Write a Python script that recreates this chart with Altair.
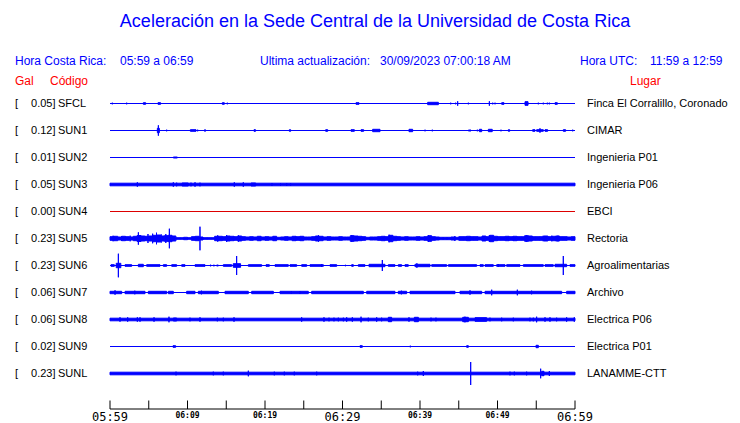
import altair as alt
import pandas as pd

# ---------------- data ----------------
STATIONS = ["SFCL", "SUN1", "SUN2", "SUN3", "SUN4", "SUN5", "SUN6", "SUN7", "SUN8", "SUN9", "SUNL"]
GAL = [0.05, 0.12, 0.01, 0.05, 0.00, 0.23, 0.23, 0.06, 0.06, 0.02, 0.23]
PLACES = ["Finca El Corralillo, Coronado", "CIMAR", "Ingenieria P01", "Ingenieria P06", "EBCI",
          "Rectoria", "Agroalimentarias", "Archivo", "Electrica P06", "Electrica P01", "LANAMME-CTT"]
ONLINE = [True, True, True, True, False, True, True, True, True, True, True]

# events per station: (start minute after 05:59, duration in minutes, half amplitude)
SFCL = [(0.30, 0, 1.3), (2.15, 0, 1.3), (3.96, 0, 1.0), (4.30, 0.30, 1.3), (4.73, 0, 1.0), (6.19, 0.34, 1.3),
        (7.31, 0, 1.0), (9.59, 0, 0.7), (10.62, 0, 0.7), (14.49, 0.26, 1.3), (15.14, 0, 1.3), (28.69, 0, 0.7),
        (31.74, 0.39, 1.3), (33.76, 0, 0.7), (37.33, 0, 0.7), (38.58, 0, 1.0), (38.84, 0, 1.0), (40.99, 1.38, 1.7),
        (43.96, 0, 1.3), (44.60, 0, 1.3), (44.86, 0, 2.7), (46.24, 0, 1.3), (46.80, 0, 0.7), (47.31, 0, 1.0),
        (47.96, 0, 1.0), (48.95, 0, 2.7), (49.38, 0, 1.3), (49.68, 0, 1.3), (50.54, 0.30, 1.3), (51.70, 0, 0.7),
        (52.56, 0, 0.7), (53.55, 0.39, 2.3), (55.27, 0, 1.3), (55.91, 0, 1.3), (56.43, 0, 1.3), (56.69, 0, 1.3),
        (57.42, 0.30, 1.3), (59.57, 0, 0.7)]
SUN1 = [(5.59, 0, 1.0), (6.11, 0.26, 2.7), (6.24, 0, 5.7), (7.31, 0, 1.3), (10.37, 0.73, 1.3), (11.31, 0, 1.3),
        (12.26, 0, 1.7), (12.69, 0, 0.7), (14.88, 0, 1.0), (16.17, 0, 1.0), (17.20, 0, 0.7), (18.58, 0.20, 1.3),
        (23.14, 0.17, 1.3), (25.46, 0, 1.0), (27.83, 0.26, 1.3), (28.82, 0, 1.0), (30.62, 0, 0.7), (30.88, 0, 0.7),
        (31.10, 0.43, 1.3), (32.39, 0.34, 1.3), (33.89, 0.95, 1.7), (38.58, 0.47, 1.7), (39.78, 0, 1.0),
        (40.22, 0, 0.7), (40.65, 0, 1.3), (41.29, 0, 1.0), (41.59, 0, 1.3), (43.87, 0, 0.7), (45.03, 0, 1.0),
        (45.46, 0, 1.0), (46.24, 0.34, 1.0), (47.40, 0, 1.3), (47.66, 0.30, 1.7), (48.39, 0, 0.7), (48.82, 0.50, 1.7),
        (50.45, 0, 1.3), (51.05, 0, 1.0), (51.40, 0.17, 1.3), (53.89, 0, 0.7), (54.54, 0.30, 1.3), (55.05, 0.86, 1.3),
        (55.48, 0, 2.7), (56.13, 0.34, 1.3), (57.94, 0, 1.0), (58.49, 0.30, 1.3), (59.27, 0, 1.0), (59.70, 0, 1.3)]
SUN2 = [(8.17, 0.52, 1.0)]
SUN3 = [(0, 60, 1.8), (3.53, 0, 2.7), (8.17, 0, 2.7), (8.60, 0, 2.3), (9.30, 0.8, 2.0), (10.45, 0, 2.3),
        (10.97, 0, 2.7), (11.61, 0, 2.3), (16.04, 0, 2.7), (17.20, 0, 2.7), (18.20, 0.6, 2.0), (20.90, 0, 2.0),
        (22.00, 0, 2.0), (22.80, 0, 2.0), (23.30, 0, 2.0)]
SUN4 = []
SUN5_ENV = [2.3, 2.7, 2.0, 2.7, 2.3, 2.0, 2.7, 3.5, 3.0, 2.7,
            3.0, 3.7, 4.0, 3.0, 3.3, 3.7, 3.0, 1.3, 1.3, 1.7,
            1.3, 2.3, 2.7, 2.0, 1.3, 1.3, 1.3, 2.7, 2.7, 2.3,
            3.0, 2.7, 2.3, 3.0, 2.3, 2.0, 2.3, 2.0, 2.7, 2.0,
            2.3, 2.0, 2.7, 1.7, 2.0, 2.3, 2.0, 2.7, 2.3, 2.7,
            2.0, 2.0, 2.3, 3.0, 2.7, 2.0, 2.3, 2.0, 2.0, 2.3,
            2.0, 2.0, 3.3, 3.0, 2.7, 2.3, 1.7, 2.0, 2.0, 2.3,
            2.7, 2.3, 3.7, 2.7, 2.3, 2.0, 2.3, 2.0, 2.0, 2.3,
            2.0, 2.3, 3.3, 2.3, 2.0, 1.7, 1.7, 1.7, 2.0, 1.7,
            2.3, 2.3, 2.7, 2.3, 2.3, 2.0, 3.0, 2.3, 3.7, 2.7,
            2.3, 2.3, 2.7, 2.3, 2.7, 2.3, 2.3, 3.3, 3.0, 2.3,
            2.3, 2.3, 3.0, 2.3, 2.7, 3.0, 2.3, 2.3, 2.0, 2.3]
SUN5 = [(0.4, 0, 3.3), (1.5, 0, 3.0), (2.6, 0, 3.3), (3.66, 0, 6.7), (4.9, 0, 5.0), (5.5, 0, 5.3), (6.0, 0, 6.3),
        (6.6, 0, 4.7), (7.2, 0, 5.0), (7.66, 0, 10.3), (11.61, 0, 12.3), (13.9, 0, 3.7), (15.05, 0, 4.0),
        (16.56, 0, 3.7), (26.9, 0, 3.7), (31.2, 0, 4.0), (36.0, 0, 4.3), (41.1, 0, 3.7), (44.5, 0, 3.0),
        (48.95, 0, 4.0), (53.76, 0, 3.7), (55.9, 0, 3.3), (57.0, 0, 3.3), (57.8, 0, 3.3)]
SUN6 = [(0.13, 0.43, 1.3), (0.80, 0.60, 2.7), (1.08, 0, 12.3), (1.94, 0.86, 1.3), (3.66, 0.64, 1.7),
        (4.73, 1.72, 1.3), (6.88, 0.43, 1.3), (7.96, 0.64, 1.3), (9.25, 0.43, 1.3), (10.97, 1.29, 1.3),
        (12.90, 0.15, 1.0), (13.33, 0.15, 1.0), (13.76, 0.22, 1.0), (14.62, 1.08, 1.3), (15.90, 0.95, 2.3),
        (16.34, 0, 10.0), (17.85, 1.72, 1.3), (20.13, 0.43, 1.3), (21.29, 1.72, 1.3), (23.23, 0.86, 1.3),
        (24.73, 0.65, 1.3), (25.81, 1.72, 1.3), (27.30, 0, 2.0), (28.39, 0.86, 1.3), (30.32, 0.10, 1.0),
        (30.75, 0, 1.0), (31.18, 0.22, 1.3), (32.04, 0.86, 1.3), (33.42, 2.06, 1.7), (35.14, 0, 6.0),
        (35.91, 0.86, 1.3), (37.20, 0.43, 1.3), (38.06, 0.43, 1.3), (39.35, 1.94, 1.7), (39.60, 0, 2.7),
        (41.51, 1.93, 1.3), (43.66, 3.65, 1.3), (47.74, 0.43, 1.3), (48.39, 1.07, 1.3), (49.89, 1.08, 1.3),
        (50.10, 0, 2.0), (51.18, 1.72, 1.3), (53.33, 2.58, 1.3), (56.13, 1.07, 1.3), (57.42, 1.50, 1.7),
        (58.49, 0, 10.0), (59.35, 0.65, 1.3)]
SUN7 = [(0, 1.51, 1.7), (1.94, 2.58, 1.7), (4.95, 2.36, 1.7), (7.53, 0.64, 1.7), (9.89, 1.08, 1.7),
        (11.40, 2.58, 1.7), (14.84, 3.01, 1.7), (18.28, 2.80, 1.7), (21.94, 3.65, 1.7), (26.02, 6.67, 1.7),
        (33.12, 3.65, 1.7), (37.20, 1.08, 1.7), (38.71, 5.81, 1.7), (45.16, 2.80, 1.7), (48.39, 9.89, 1.7),
        (58.92, 1.08, 1.7),
        (0.65, 0, 2.7), (3.2, 0, 2.3), (11.8, 0, 2.3), (23.4, 0, 2.0), (24.5, 0, 2.0), (37.6, 0, 2.3),
        (46.45, 0, 2.7), (49.25, 0, 3.3), (52.56, 0, 3.3), (54.4, 0, 2.3)]
SUN8 = [(0, 60, 1.8), (1.29, 0, 2.7), (2.28, 0, 2.7), (3.53, 0, 2.7), (3.87, 0, 2.7), (5.68, 0, 2.7),
        (7.61, 0, 3.3), (8.17, 0.43, 2.0), (10.32, 0, 2.3), (11.61, 0, 2.7), (13.85, 0, 2.3), (14.62, 0, 2.3),
        (16.0, 0, 2.7), (24.73, 0, 2.7), (27.61, 0, 2.7), (28.26, 0, 2.3), (28.90, 0, 2.3), (29.46, 0, 2.3),
        (30.11, 0, 2.3), (30.54, 0, 2.7), (31.27, 0, 2.7), (32.39, 0, 3.3), (33.33, 0, 2.3), (34.41, 0, 2.7),
        (35.05, 0, 2.3), (35.91, 0.43, 2.7), (38.58, 0, 2.7), (39.27, 0.52, 2.7), (41.42, 0, 2.3),
        (42.06, 0, 2.3), (45.51, 0.73, 2.7), (45.8, 0, 3.3), (47.10, 1.50, 2.3), (49.03, 0, 2.3),
        (50.54, 0, 2.3), (52.04, 0, 2.3), (54.19, 0, 2.3), (54.62, 0, 2.3), (55.05, 0, 3.3), (56.13, 0, 2.7),
        (56.77, 0, 2.7), (57.63, 0, 2.3), (58.92, 0, 2.7), (59.91, 0, 2.7)]
SUN9 = [(1.59, 0, 1.0), (6.75, 0, 1.0), (8.13, 0.34, 1.3), (13.85, 0, 1.0), (14.62, 0, 1.0), (32.26, 0.30, 1.3),
        (37.98, 0, 1.0), (38.75, 0, 1.3), (40.43, 0, 1.0), (42.06, 0, 1.0), (46.02, 0.22, 1.3), (54.97, 0.30, 1.7),
        (57.85, 0, 1.0)]
SUNL = [(0, 60, 1.8), (8.52, 0, 2.3), (13.33, 0, 2.3), (14.62, 0, 2.3), (17.85, 0, 3.3), (21.20, 0, 2.3),
        (22.49, 0, 2.3), (23.78, 0, 2.3), (26.67, 0, 2.3), (39.70, 0, 2.3), (40.43, 0, 3.0), (46.54, 0, 12.0),
        (51.61, 0, 2.3), (52.17, 0, 2.3), (53.76, 0, 2.3), (55.57, 0, 5.3), (55.70, 0.3, 2.7), (56.69, 0, 3.0)]
EVENTS = [SFCL, SUN1, SUN2, SUN3, SUN4, SUN5, SUN6, SUN7, SUN8, SUN9, SUNL]

TICKS = list(range(0, 61, 5))
TICK_LABELS = [(0, "05:59", True), (10, "06:09", False), (20, "06:19", False), (30, "06:29", True),
               (40, "06:39", False), (50, "06:49", False), (60, "06:59", True)]

TITLE = "Aceleración en la Sede Central de la Universidad de Costa Rica"

# ---------------- styling / layout ----------------
BLUE = "#0000ff"
RED = "#ff0000"
SANS = "Liberation Sans"
W, H = 724, 415
Y0, DY = 95.5, 27.0

xs = alt.Scale(domain=[0, 60], range=[102, 567], nice=False, zero=False)
ys = alt.Scale(domain=[0, H], range=[0, H], nice=False, zero=False)


def base(i):
    return Y0 + DY * i


rows = []
for i, evs in enumerate(EVENTS):
    col = BLUE if ONLINE[i] else "#dd0000"
    for (t, d, a) in evs:
        inner = max(a - 0.5, 0)
        rows.append({"t0": t, "t1": t + d, "y": base(i) - inner, "y2": base(i) + inner, "c": col})
for k, a in enumerate(SUN5_ENV):
    inner = max(a - 0.5, 0)
    rows.append({"t0": k * 0.5, "t1": k * 0.5 + 0.5, "y": base(5) - inner, "y2": base(5) + inner, "c": BLUE})
ev_df = pd.DataFrame(rows)

base_df = pd.DataFrame({
    "t0": [0] * len(STATIONS), "t1": [60] * len(STATIONS),
    "y": [base(i) for i in range(len(STATIONS))],
    "c": [BLUE if o else "#dd0000" for o in ONLINE],
    "code": STATIONS,
    "gal": [f"{g:.2f}]" for g in GAL],
    "place": PLACES,
})

baselines = alt.Chart(base_df).mark_rule(strokeWidth=1.2).encode(
    x=alt.X("t0:Q", scale=xs, axis=None), x2="t1:Q",
    y=alt.Y("y:Q", scale=ys, axis=None),
    color=alt.Color("c:N", scale=None),
)

events = alt.Chart(ev_df).mark_rect(strokeWidth=1).encode(
    x=alt.X("t0:Q", scale=xs, axis=None), x2="t1:Q",
    y=alt.Y("y:Q", scale=ys, axis=None), y2="y2:Q",
    fill=alt.Fill("c:N", scale=None),
    stroke=alt.Stroke("c:N", scale=None),
)

lab_font = dict(font=SANS, fontSize=11, baseline="middle", color="black")
bracket = alt.Chart(base_df).mark_text(align="left", text="[", **lab_font).encode(
    x=alt.value(7), y=alt.Y("y:Q", scale=ys, axis=None))
galtxt = alt.Chart(base_df).mark_text(align="right", **lab_font).encode(
    x=alt.value(47.5), y=alt.Y("y:Q", scale=ys, axis=None), text="gal:N")
codetxt = alt.Chart(base_df).mark_text(align="left", **lab_font).encode(
    x=alt.value(50), y=alt.Y("y:Q", scale=ys, axis=None), text="code:N")
placetxt = alt.Chart(base_df).mark_text(align="left", font=SANS, fontSize=11, baseline="middle",
                                        color="black").encode(
    x=alt.value(579), y=alt.Y("y:Q", scale=ys, axis=None), text="place:N")

tick_df = pd.DataFrame({"t": TICKS})
ticks = alt.Chart(tick_df).mark_rule(color="black", strokeWidth=1).encode(
    x=alt.X("t:Q", scale=xs, axis=None), y=alt.value(392.5), y2=alt.value(401))
axis_line = alt.Chart(pd.DataFrame({"a": [0], "b": [60]})).mark_rule(color="black", strokeWidth=1).encode(
    x=alt.X("a:Q", scale=xs, axis=None), x2="b:Q", y=alt.value(401))

tl_df = pd.DataFrame(TICK_LABELS, columns=["t", "lab", "big"])
big_labels = alt.Chart(tl_df).transform_filter("datum.big").mark_text(
    font="DejaVu Sans Mono", fontSize=12, baseline="middle", align="center", color="black").encode(
    x=alt.X("t:Q", scale=xs, axis=None), y=alt.value(409), text="lab:N")
small_labels = alt.Chart(tl_df).transform_filter("!datum.big").mark_text(
    font="DejaVu Sans Mono", fontSize=8, fontWeight="bold", baseline="middle", align="center",
    color="black").encode(
    x=alt.X("t:Q", scale=xs, axis=None), y=alt.value(408.3), text="lab:N")

ONE = pd.DataFrame({"a": [0]})


def label(txt, x, y, size, color, align="left"):
    return alt.Chart(ONE).mark_text(text=txt, align=align, baseline="middle", font=SANS,
                                    fontSize=size, color=color).encode(x=alt.value(x), y=alt.value(y))


texts = [
    label(TITLE, 367, 14, 18, BLUE, "center"),
    label("Hora Costa Rica:", 7, 52.7, 12, BLUE),
    label("05:59 a 06:59", 112, 52.7, 12, BLUE),
    label("Ultima actualización:", 252, 52.7, 12, BLUE),
    label("30/09/2023 07:00:18 AM", 372, 52.7, 12, BLUE),
    label("Hora UTC:", 572, 52.7, 12, BLUE),
    label("11:59 a 12:59", 642, 52.7, 12, BLUE),
    label("Gal", 7, 72.7, 12, RED),
    label("Código", 42, 72.7, 12, RED),
    label("Lugar", 622, 72.7, 12, RED),
]

chart = alt.layer(
    baselines, events, bracket, galtxt, codetxt, placetxt, ticks, axis_line, big_labels, small_labels, *texts
).properties(
    width=W, height=H, autosize=alt.AutoSizeParams(type="none"), padding=0,
    background="white",
).configure_view(stroke=None)

chart.save("out.html", embed_options={"renderer": "svg", "actions": False})
